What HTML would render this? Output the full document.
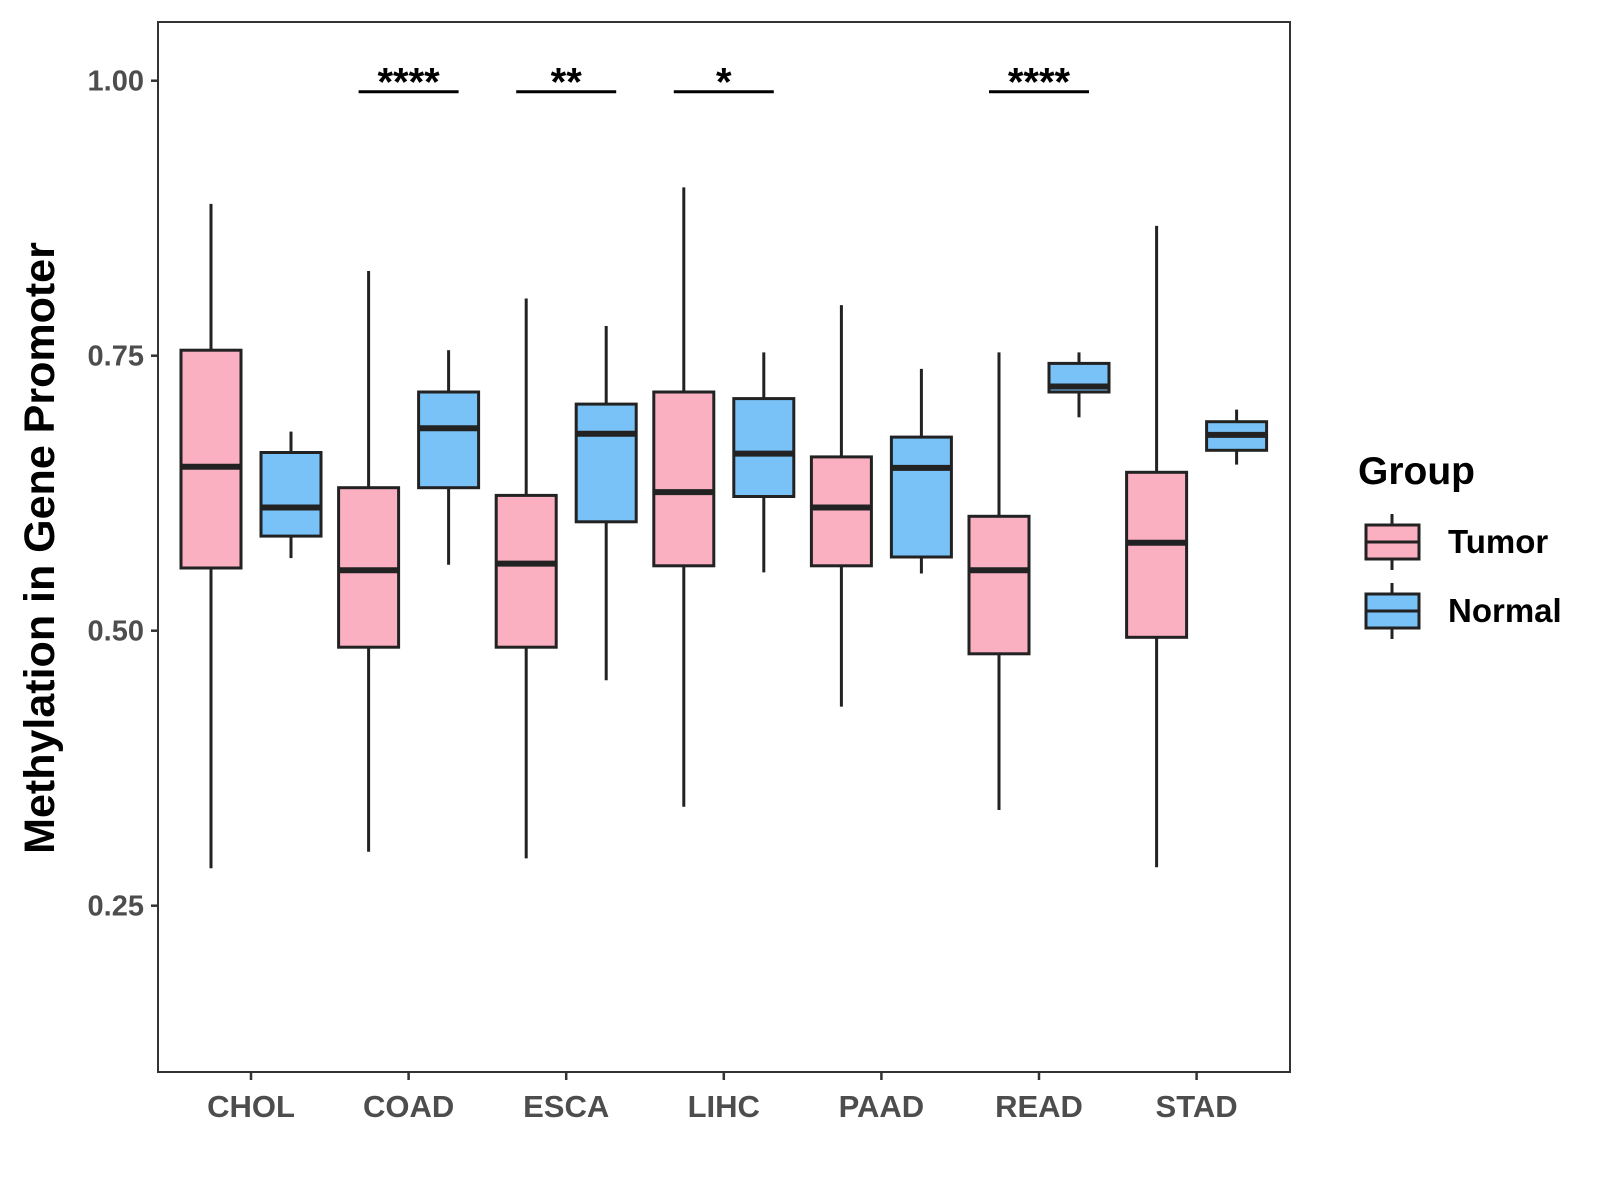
<!DOCTYPE html>
<html><head><meta charset="utf-8"><style>
html,body{margin:0;padding:0;background:#fff}
svg{display:block;font-family:"Liberation Sans",Arial,sans-serif}
</style></head><body>
<svg id="chart" width="1600" height="1200" viewBox="0 0 1600 1200"></svg>
<script>
const categories=["CHOL","COAD","ESCA","LIHC","PAAD","READ","STAD"];
const tumorStats=[[0.284,0.557,0.649,0.755,0.888],[0.299,0.485,0.555,0.630,0.827],[0.293,0.485,0.561,0.623,0.802],[0.340,0.559,0.626,0.717,0.903],[0.431,0.559,0.612,0.658,0.796],[0.337,0.479,0.555,0.604,0.753],[0.285,0.494,0.580,0.644,0.868]];
const normalStats=[[0.566,0.586,0.612,0.662,0.681],[0.560,0.630,0.684,0.717,0.755],[0.455,0.599,0.679,0.706,0.777],[0.553,0.622,0.661,0.711,0.753],[0.552,0.567,0.648,0.676,0.738],[0.694,0.717,0.722,0.743,0.753],[0.651,0.664,0.678,0.690,0.701]];
const yTicks=[0.25,0.50,0.75,1.00];
const yTickLabels=["0.25","0.50","0.75","1.00"];
const sigCats=["COAD","ESCA","LIHC","READ"];
const sigLabels=["****","**","*","****"];
const sigLevel=0.990;

const svg=document.getElementById('chart');
const NS='http://www.w3.org/2000/svg';
const L=158,T=22,R=1290,B=1072;
const y=v=>80.7+(1-v)*1100;
const x=i=>251+i*157.6;
const OFF=40,BW=60;
function mk(tag,attrs,parent){const e=document.createElementNS(NS,tag);for(const k in attrs)e.setAttribute(k,attrs[k]);(parent||svg).appendChild(e);return e;}

const frame=mk('rect',{x:L,y:T,width:R-L,height:B-T,fill:'none',stroke:'#333',"stroke-width":2});



yTicks.forEach((v,i)=>{
  const g=mk('g',{});
  
  
  mk('line',{x1:L-7,x2:L,y1:y(v),y2:y(v),stroke:'#333',"stroke-width":2.5},g);
  const t=mk('text',{x:L-14,y:y(v)+10,"text-anchor":"end","font-size":29,"font-weight":"bold",fill:'#4d4d4d'},g);
  t.textContent=yTickLabels[i];
});
categories.forEach((c,i)=>{
  const g=mk('g',{});
  
  
  mk('line',{x1:x(i),x2:x(i),y1:B,y2:B+8,stroke:'#333',"stroke-width":2.5},g);
  const t=mk('text',{x:x(i),y:1117,"text-anchor":"middle","font-size":31,"font-weight":"bold",fill:'#4d4d4d'},g);
  t.textContent=c;
});
const yt=mk('text',{x:0,y:0,transform:'translate(54,548) rotate(-90)',"text-anchor":"middle","font-size":43,"font-weight":"bold",fill:'#000'});
yt.textContent='Methylation in Gene Promoter';



function box(cx,s,fill,name){
  const g=mk('g',{});
  
  
  mk('line',{x1:cx,x2:cx,y1:y(s[4]),y2:y(s[3]),stroke:'#222',"stroke-width":3},g);
  mk('line',{x1:cx,x2:cx,y1:y(s[1]),y2:y(s[0]),stroke:'#222',"stroke-width":3},g);
  mk('rect',{x:cx-BW/2,y:y(s[3]),width:BW,height:y(s[1])-y(s[3]),fill:fill,stroke:'#222',"stroke-width":3},g);
  mk('line',{x1:cx-BW/2,x2:cx+BW/2,y1:y(s[2]),y2:y(s[2]),stroke:'#222',"stroke-width":6},g);
}
categories.forEach((c,i)=>{
  box(x(i)-OFF,tumorStats[i],'#FBB0C2','box-tumor-'+c.toLowerCase());
  box(x(i)+OFF,normalStats[i],'#79C2F8','box-normal-'+c.toLowerCase());
});
sigCats.forEach((c,k)=>{
  const i=categories.indexOf(c);
  const g=mk('g',{});
  
  
  mk('line',{x1:x(i)-50,x2:x(i)+50,y1:y(sigLevel),y2:y(sigLevel),stroke:'#000',"stroke-width":3},g);
  const t=mk('text',{x:x(i),y:y(sigLevel)+4,"text-anchor":"middle","font-size":40,"font-weight":"bold",fill:'#000'},g);
  t.textContent=sigLabels[k];
});
// legend
const lg=mk('g',{});


const lt=mk('text',{x:1358,y:484,"font-size":39,"font-weight":"bold",fill:'#000'},lg);
lt.textContent='Group';
[['Tumor','#FBB0C2',542],['Normal','#79C2F8',611]].forEach(([n,f,cy])=>{
  const e=mk('g',{},lg);
  
  
  mk('line',{x1:1392,x2:1392,y1:cy-28,y2:cy+28,stroke:'#222',"stroke-width":3},e);
  mk('rect',{x:1366,y:cy-17,width:53,height:34,fill:f,stroke:'#222',"stroke-width":3},e);
  mk('line',{x1:1366,x2:1419,y1:cy,y2:cy,stroke:'#222',"stroke-width":3},e);
  const t=mk('text',{x:1448,y:cy+11,"font-size":33,"font-weight":"bold",fill:'#000'},e);
  t.textContent=n;
});
</script>
</body></html>
